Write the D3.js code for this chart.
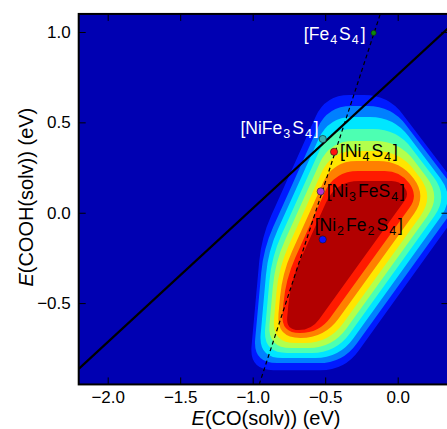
<!DOCTYPE html>
<html>
<head>
<meta charset="utf-8">
<script src="https://cdnjs.cloudflare.com/ajax/libs/d3/7.8.5/d3.min.js"></script>
<style>
  body { margin: 0; background: #fff; }
  text { font-family: "Liberation Sans", Arial, Helvetica, sans-serif; }
</style>
</head>
<body>
<div id="chart"></div>
<script>
// axes
var xDomain = [-2.2, 0.35];
var yDomain = [-0.95, 1.1];
var xTicks = [-2.0, -1.5, -1.0, -0.5, 0.0];
var yTicks = [-0.5, 0.0, 0.5, 1.0];

// jet band colours, background first then outer -> inner level
var bandColors = ["#0000b2", "#001aff", "#0080ff", "#00e6ff", "#4dffb2",
                  "#b2ff4d", "#ffe600", "#ff8000", "#ff1a00", "#b20000"];

// corners of each contour level in eV (CO, COOH), outer -> inner
var levelOutlines = [
  [[-0.499, 0.651], [-0.066, 0.651], [0.481, 0.074], [-0.366, -0.871], [-1.023, -0.871], [-0.940, -0.136]],
  [[-0.484, 0.590], [-0.042, 0.590], [0.440, 0.081], [-0.380, -0.832], [-0.998, -0.832], [-0.926, -0.198]],
  [[-0.477, 0.530], [-0.026, 0.530], [0.394, 0.085], [-0.403, -0.804], [-0.960, -0.804], [-0.894, -0.213]],
  [[-0.473, 0.463], [-0.005, 0.463], [0.350, 0.089], [-0.427, -0.776], [-0.929, -0.776], [-0.870, -0.244]],
  [[-0.469, 0.397], [0.010, 0.397], [0.301, 0.089], [-0.450, -0.749], [-0.899, -0.749], [-0.846, -0.274]],
  [[-0.459, 0.341], [0.014, 0.341], [0.253, 0.089], [-0.474, -0.721], [-0.868, -0.721], [-0.821, -0.305]],
  [[-0.448, 0.286], [0.019, 0.286], [0.201, 0.093], [-0.504, -0.693], [-0.837, -0.693], [-0.797, -0.336]],
  [[-0.438, 0.231], [0.016, 0.231], [0.143, 0.096], [-0.541, -0.666], [-0.806, -0.666], [-0.773, -0.367]],
  [[-0.428, 0.175], [0.013, 0.175], [0.081, 0.104], [-0.595, -0.649], [-0.770, -0.649], [-0.740, -0.382]]
];

// solid and dashed lines (end points, eV)
var solidLine = [[-2.2, -0.864], [0.35, 1.023]];
var dashedLine = [[-0.955, -0.95], [-0.12, 1.10]];

// clusters
var siteX = [-0.166, -0.517, -0.439, -0.531, -0.517];
var siteY = [0.995, 0.408, 0.337, 0.118, -0.148];
var siteColors = ["#0a8a0a", "#38b0b0", "#ff1010", "#b035d0", "#1010ff"];
var siteLabels = [
  [["[Fe", 0], ["4", 1], ["S", 0], ["4", 1], ["]", 0]],
  [["[NiFe", 0], ["3", 1], ["S", 0], ["4", 1], ["]", 0]],
  [["[Ni", 0], ["4", 1], ["S", 0], ["4", 1], ["]", 0]],
  [["[Ni", 0], ["3", 1], ["FeS", 0], ["4", 1], ["]", 0]],
  [["[Ni", 0], ["2", 1], ["Fe", 0], ["2", 1], ["S", 0], ["4", 1], ["]", 0]]
];

var W = 447, H = 429;
var margin = {left: 78.7, top: 13.93};
var pw = 369.75, ph = 370.5;

var svg = d3.select("#chart").append("svg")
  .attr("width", W).attr("height", H);

var x = d3.scaleLinear().domain(xDomain).range([0, pw]);
var y = d3.scaleLinear().domain(yDomain).range([ph, 0]);

var g = svg.append("g").attr("transform", "translate(" + margin.left + "," + margin.top + ")");

g.append("clipPath").attr("id", "clip")
  .append("rect").attr("width", pw).attr("height", ph);

var plot = g.append("g").attr("clip-path", "url(#clip)");

plot.append("rect").attr("width", pw).attr("height", ph).attr("fill", bandColors[0]);

// polygon with its corners rounded off
function roundedPath(pts, r) {
  var n = pts.length, p = d3.path();
  for (var i = 0; i < n; i++) {
    var v = pts[i], a = pts[(i - 1 + n) % n], b = pts[(i + 1) % n];
    var dA = Math.hypot(a[0] - v[0], a[1] - v[1]);
    var dB = Math.hypot(b[0] - v[0], b[1] - v[1]);
    var rr = Math.min(r, dA / 2, dB / 2);
    var p1 = [v[0] + (a[0] - v[0]) * rr / dA, v[1] + (a[1] - v[1]) * rr / dA];
    var p2 = [v[0] + (b[0] - v[0]) * rr / dB, v[1] + (b[1] - v[1]) * rr / dB];
    if (i == 0) p.moveTo(p1[0], p1[1]); else p.lineTo(p1[0], p1[1]);
    p.quadraticCurveTo(v[0], v[1], p2[0], p2[1]);
  }
  p.closePath();
  return p.toString();
}

plot.selectAll("path.level")
  .data(levelOutlines)
  .enter().append("path")
  .attr("class", "level")
  .attr("d", function(d) {
    return roundedPath(d.map(function(c) { return [x(c[0]), y(c[1])]; }), 24);
  })
  .attr("fill", function(d, i) { return bandColors[i + 1]; });

var line = d3.line().x(function(d) { return x(d[0]); }).y(function(d) { return y(d[1]); });

plot.append("path").attr("d", line(solidLine))
  .attr("fill", "none").attr("stroke", "#000").attr("stroke-width", 2.2);

plot.append("path").attr("d", line(dashedLine))
  .attr("fill", "none").attr("stroke", "#000").attr("stroke-width", 1.2)
  .attr("stroke-dasharray", "4,3");

// points
plot.selectAll("circle.site")
  .data(siteX)
  .enter().append("circle")
  .attr("cx", function(d) { return x(d); })
  .attr("cy", function(d, i) { return y(siteY[i]); })
  .attr("r", function(d, i) { return i == 0 ? 2.6 : 3.6; })
  .attr("fill", function(d, i) { return siteColors[i]; })
  .attr("stroke", "#1a1a1a").attr("stroke-width", 0.6);

// labels
var labelPos = [
  {anchor: "end", dx: -8, dy: 7, color: "#fff"},
  {anchor: "end", dx: -4, dy: -5, color: "#fff"},
  {anchor: "start", dx: 6, dy: 5, color: "#000"},
  {anchor: "start", dx: 6, dy: 6, color: "#000"},
  {anchor: "start", dx: -8, dy: -8, color: "#000"}
];

siteLabels.forEach(function(parts, i) {
  var t = plot.append("text")
    .attr("x", x(siteX[i]) + labelPos[i].dx)
    .attr("y", y(siteY[i]) + labelPos[i].dy)
    .attr("text-anchor", labelPos[i].anchor)
    .attr("fill", labelPos[i].color)
    .style("font-size", "17.5px");
  var down = false;
  parts.forEach(function(pt) {
    var ts = t.append("tspan").text(pt[0]);
    if (pt[1]) {
      ts.attr("dy", 4).attr("dx", 1).style("font-size", "12.5px");
      down = true;
    } else if (down) {
      ts.attr("dy", -4).attr("dx", 2);
      down = false;
    }
  });
});

// axes, ticks pointing inward on all sides
var fmt = d3.format(".1f");
function styleAxis(sel) {
  sel.select(".domain").remove();
  sel.selectAll(".tick line").attr("stroke", "#000").attr("stroke-width", 1);
  sel.selectAll(".tick text").style("font-size", "17px").attr("fill", "#000");
}

g.append("g").attr("transform", "translate(0," + ph + ")")
  .call(d3.axisBottom(x).tickValues(xTicks).tickFormat(fmt).tickSizeInner(-7).tickSizeOuter(0).tickPadding(7))
  .call(styleAxis);
g.append("g")
  .call(d3.axisTop(x).tickValues(xTicks).tickFormat("").tickSizeInner(-7).tickSizeOuter(0))
  .call(styleAxis);
g.append("g")
  .call(d3.axisLeft(y).tickValues(yTicks).tickFormat(fmt).tickSizeInner(-7).tickSizeOuter(0).tickPadding(8))
  .call(styleAxis);
g.append("g").attr("transform", "translate(" + pw + ",0)")
  .call(d3.axisRight(y).tickValues(yTicks).tickFormat("").tickSizeInner(-7).tickSizeOuter(0))
  .call(styleAxis);

g.append("rect").attr("width", pw).attr("height", ph)
  .attr("fill", "none").attr("stroke", "#000").attr("stroke-width", 2);

// axis titles
var xt = svg.append("text").attr("x", 266).attr("y", 425)
  .attr("text-anchor", "middle").style("font-size", "20px");
xt.append("tspan").style("font-style", "italic").text("E");
xt.append("tspan").text("(CO(solv)) (eV)");

var yt = svg.append("text")
  .attr("transform", "translate(26," + (margin.top + ph / 2 - 2) + ") rotate(-90)")
  .attr("dy", "0.35em")
  .attr("text-anchor", "middle").style("font-size", "20px");
yt.append("tspan").style("font-style", "italic").text("E");
yt.append("tspan").text("(COOH(solv)) (eV)");
</script>
</body>
</html>
